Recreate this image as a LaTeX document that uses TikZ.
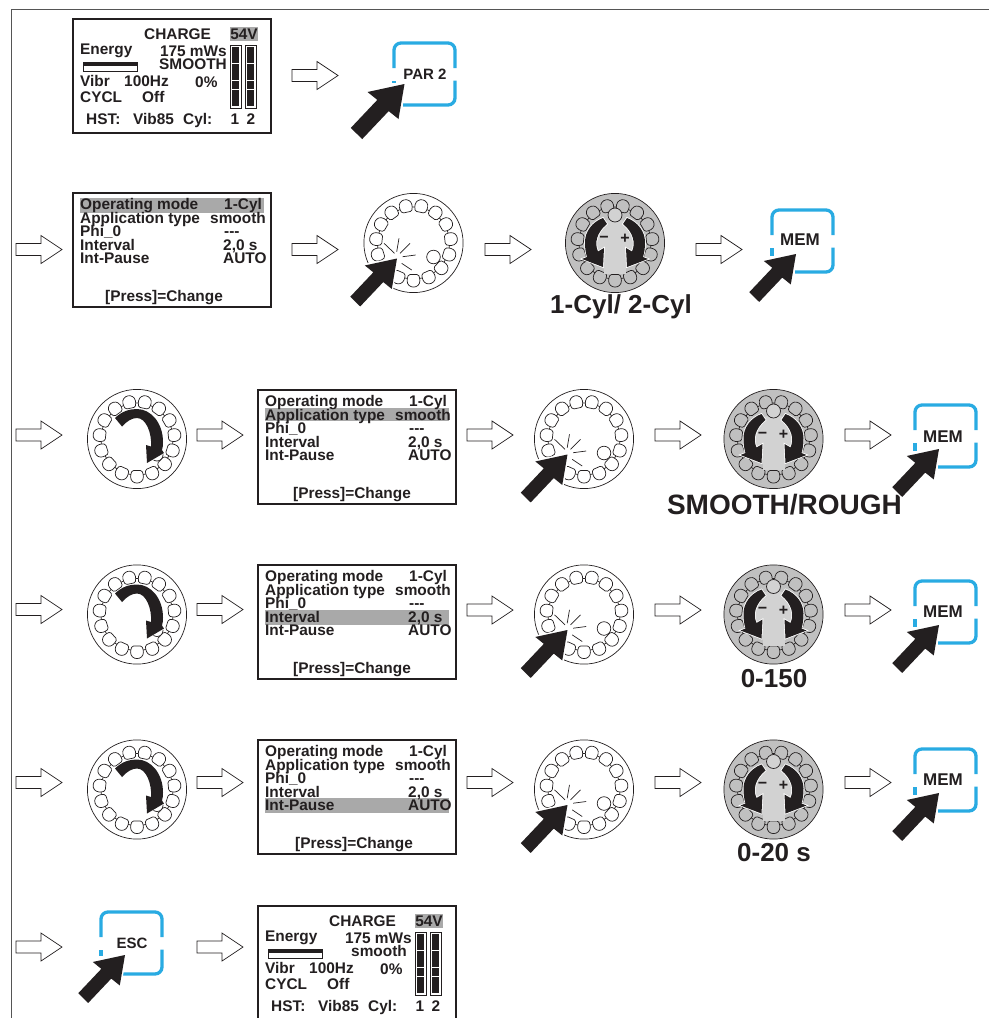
\documentclass[tikz,border=0pt]{standalone}
\usepackage{fontspec}
\setmainfont{Liberation Sans}
\definecolor{ink}{HTML}{231F20}
\definecolor{frameline}{HTML}{555555}
\definecolor{btnblue}{HTML}{29ABE2}
\definecolor{hlgrey}{HTML}{A9A9A9}
\definecolor{dialdark}{HTML}{C0C0C0}
\definecolor{diallight}{HTML}{D2D2D2}
\tikzset{
  hollow/.style={draw=ink,fill=white,line width=.7pt,line join=miter},
  screenbox/.style={draw=ink,fill=white,line width=1.6pt},
  scrleft/.style={anchor=base west,inner sep=0pt,text=ink,font=\fontsize{15.4}{15}\selectfont\bfseries},
  scrright/.style={anchor=base east,inner sep=0pt,text=ink,font=\fontsize{15.4}{15}\selectfont\bfseries},
  scrmid/.style={anchor=base,inner sep=0pt,text=ink,font=\fontsize{15.4}{15}\selectfont\bfseries},
  bigtext/.style={anchor=center,inner sep=0pt,text=ink,font=\fontsize{26}{26}\selectfont\bfseries},
  btntext/.style={anchor=center,inner sep=0pt,text=ink,font=\fontsize{15.5}{15}\selectfont\bfseries},
  btnline/.style={draw=btnblue,line width=3.3pt,rounded corners=7pt},
  pointer/.style={fill=ink,preaction={draw=white,line width=3pt}},
  dialline/.style={draw=ink,line width=.7pt},
  signtext/.style={anchor=center,inner sep=0pt,text=ink,font=\fontsize{16}{16}\selectfont\bfseries},
}
% hollow block arrow: x, centre y
\newcommand{\harrow}[2]{%
  \draw[hollow,shift={(#1,#2)}] (0,-6) -- (25,-6) -- (25,-14) -- (46,0) -- (25,14) -- (25,6) -- (0,6) -- cycle;}
% black pointer: tip x, tip y, scale
\newcommand{\pointerarrow}[3]{%
  \path[pointer,shift={(#1,#2)},scale=#3] (0,0) -- (-37,8) -- (-27.2,15.9) -- (-53.7,43.9) -- (-42.3,55.1) -- (-15.8,27.1) -- (-6,35) -- cycle;}
% ring of bumps (y axis points down, so angles run clockwise on the page)
\newcommand{\bumps}[1]{%
  \foreach \a in {90,114,...,426}{%
    \draw[dialline,fill=#1,shift={(\a:37.5)},rotate=-\a]
      (-6,-3.4) .. controls (-6,-4.8) and (-5.5,-5.2) .. (-4.7,-5.4)
      .. controls (-2.6,-6.2) and (-1,-6.4) .. (.2,-6.4)
      .. controls (4,-6.4) and (6.6,-3.6) .. (6.6,0)
      .. controls (6.6,3.6) and (4,6.4) .. (.2,6.4)
      .. controls (-1,6.4) and (-2.6,6.2) .. (-4.7,5.4)
      .. controls (-5.5,5.2) and (-6,4.8) .. (-6,3.4) -- cycle;}}
% plain dial with turning arrow
\newcommand{\turndial}[2]{%
  \begin{scope}[shift={(#1,#2)}]
    \draw[dialline] (0,0) circle[radius=49.6];
    \draw[dialline] (0,0) circle[radius=36];
    \bumps{white}
    \draw[dialline,fill=white] (20,16) circle[radius=6];
    \path[fill=ink,preaction={draw=white,line width=1pt}] (-22,-21) .. controls (-15,-28) and (-7,-30) .. (0,-30)
      .. controls (14,-30) and (26,-16) .. (26,3) .. controls (26,6) and (26,8) .. (25,11)
      -- (27,14) -- (10,24) -- (9,6) -- (14,7.5) .. controls (15,-6) and (9,-21) .. (0,-21)
      .. controls (-5,-21) and (-10,-18) .. (-15,-12.5) -- cycle;
  \end{scope}}
% dial being pressed
\newcommand{\pressdial}[2]{%
  \begin{scope}[shift={(#1,#2)}]
    \draw[dialline] (0,0) circle[radius=49.6];
    \draw[dialline] (0,0) circle[radius=36];
    \bumps{white}
    \draw[dialline,fill=white] (20,14) circle[radius=6.8];
    \draw[dialline] (-16.8,8.7) -- (-14.5,-4.7);
    \draw[dialline] (-19,10.3) -- (-29.5,.3);
    \draw[dialline] (-13.5,10.3) -- (-3.5,.3);
    \draw[dialline] (-10.8,13.7) -- (2.2,12);
    \draw[dialline] (-11.8,20.3) -- (-1.8,27);
    \pointerarrow{-16.5}{15.5}{.87}
  \end{scope}}
% one half of the grey-dial double arrow
\newcommand{\halfarrow}{%
  (8,-19) -- (12,-25) .. controls (23,-21) and (30,-11) .. (30,-1) .. controls (30,5) and (29.5,9) .. (28,14)
  -- (33,16) -- (12,24) -- (11,5) -- (17,8.5) .. controls (21,0) and (18,-11) .. (8,-19) -- cycle}
% grey dial with + and -
\newcommand{\greydial}[2]{%
  \begin{scope}[shift={(#1,#2)}]
    \draw[dialline,fill=dialdark] (0,0) circle[radius=49.6];
    \draw[dialline] (0,0) circle[radius=36];
    \bumps{dialdark}
    \fill[diallight] (0,-2) circle[radius=22];
    \fill[diallight] (-11,0) rectangle (11,31);
    \draw[dialline,fill=diallight] (0,-28) circle[radius=7];
    \path[fill=ink,preaction={draw=white,line width=1.6pt}] \halfarrow;
    \begin{scope}[xscale=-1]
      \path[fill=ink,preaction={draw=white,line width=1.6pt}] \halfarrow;
    \end{scope}
    \node[signtext] (minus#1) at (-11,-4) {−};
    \node[signtext] (plus#1) at (10,-4) {+};
  \end{scope}}
% blue button: x, y, stub end, bottom start, text, text cx, text cy, text size
\newcommand{\button}[8]{%
  \begin{scope}[shift={(#1,#2)}]
    \draw[btnline] (2,27) -- (2,2) -- (63,2) -- (63,27);
    \draw[btnline] (63,39.5) -- (63,64) -- (#4,64);
    \draw[draw=btnblue,line width=3.3pt] (2,40) -- (2,#3);
    \node[btntext,font=\fontsize{#8}{15}\selectfont\bfseries] (btn#1#2) at (#6,#7) {#5};
  \end{scope}}
% settings screen: name, x, y, highlight top, highlight bottom, press cx
\newcommand{\opscreen}[6]{%
  \begin{scope}[shift={(#2,#3)}]
    \draw[screenbox] (0,0) rectangle (198,114);
    \fill[hlgrey] (7,#4) rectangle (191,#5);
    \node[scrleft] (#1a) at (7,16) {Operating mode};
    \node[scrleft] (#1ar) at (151,16) {1-Cyl};
    \node[scrleft] (#1b) at (7,30) {Application type};
    \node[scrleft] (#1br) at (137,30) {smooth};
    \node[scrleft] (#1c) at (7,43) {Phi\_0};
    \node[scrleft] (#1cr) at (151,43) {-{}-{}-};
    \node[scrleft] (#1d) at (7,57) {Interval};
    \node[scrleft] (#1dr) at (150,57) {2,0 s};
    \node[scrleft] (#1e) at (7,70) {Int-Pause};
    \node[scrleft] (#1er) at (150,70) {AUTO};
    \node[scrmid] (#1f) at (#6,108) {[Press]=Change};
  \end{scope}}
% status screen: name, x, y, mode text, mode right edge
\newcommand{\chargescreen}[5]{%
  \begin{scope}[shift={(#2,#3)}]
    \draw[screenbox] (0,0) rectangle (198,114);
    \fill[hlgrey] (157,8) rectangle (185,22);
    \node[scrleft] (#1a) at (71,20) {CHARGE};
    \node[scrmid] (#1b) at (171,20) {54V};
    \node[scrleft] (#1c) at (7,35) {Energy};
    \node[scrright] (#1d) at (154,37) {175 mWs};
    \node[scrright] (#1e) at (#5,50) {#4};
    \draw[draw=ink,fill=white,line width=.8pt] (10,43) rectangle (64,52);
    \fill[ink] (10,43) rectangle (64,47);
    \node[scrleft] (#1f) at (7,67) {Vibr};
    \node[scrleft] (#1g) at (51,67) {100Hz};
    \node[scrleft] (#1h) at (122,68) {0\%};
    \node[scrleft] (#1i) at (7,83) {CYCL};
    \node[scrleft] (#1j) at (69,83) {Off};
    \node[scrleft] (#1k) at (13,105) {HST:};
    \node[scrleft] (#1l) at (60,105) {Vib85};
    \node[scrleft] (#1m) at (110,105) {Cyl:};
    \node[scrmid] (#1n) at (162,105) {1};
    \node[scrmid] (#1o) at (178,105) {2};
    \foreach \bx in {157,172}{%
      \draw[draw=ink,fill=white,line width=.9pt] (\bx,26) rectangle ++(11,63);
      \fill[ink] (\bx+2,28) rectangle ++(7,59);
      \foreach \by in {44,61,70}{\draw[white,line width=.9pt] (\bx+2,\by) -- ++(7,0);}}
  \end{scope}}
\begin{document}
\begin{tikzpicture}[x=1pt,y=-1pt]
\useasboundingbox (0,0) rectangle (989,1018);
\draw[frameline,line width=1pt] (11,1018) -- (11,9) -- (989,9);
% row 1
\chargescreen{sa}{73}{19}{SMOOTH}{154}
\harrow{292}{75.5}
\button{392}{41}{41.5}{11}{PAR 2}{33}{33}{15}
\pointerarrow{404.5}{84}{1}
% row 2
\harrow{16}{249.5}
\opscreen{sb}{73}{193}{5}{20}{91}
\harrow{292}{249.5}
\pressdial{413.5}{243}
\harrow{485}{249.5}
\greydial{615}{243}
\node[bigtext] (lcyl) at (621,307) {1-Cyl/ 2-Cyl};
\harrow{696}{249.5}
\button{770}{208}{48}{25}{MEM}{30}{32}{17}
\pointerarrow{796}{254}{.87}
% row 3
\harrow{16}{435}
\turndial{137}{439}
\harrow{197}{435}
\opscreen{sc}{258}{390}{18}{31}{94}
\harrow{467}{435}
\pressdial{584}{439}
\harrow{655}{435}
\greydial{773.5}{439}
\node[bigtext,font=\fontsize{28}{28}\selectfont\bfseries] (lsmooth) at (784.5,505) {SMOOTH/ROUGH};
\harrow{845}{435}
\button{913}{403}{48}{25}{MEM}{30}{34}{17}
\pointerarrow{939}{449}{.87}
% row 4
\harrow{16}{609.5}
\turndial{137}{614.5}
\harrow{197}{609.5}
\opscreen{sd}{258}{565}{45}{60}{94}
\harrow{467}{610}
\pressdial{584}{614.5}
\harrow{655}{610}
\greydial{773.5}{614.5}
\node[bigtext] (lrange) at (774,679) {0-150};
\harrow{845}{610}
\button{913}{579}{48}{25}{MEM}{30}{33}{17}
\pointerarrow{939}{625}{.87}
% row 5
\harrow{16}{782.5}
\turndial{137}{789.5}
\harrow{197}{782.5}
\opscreen{se}{258}{740}{58}{73}{96}
\harrow{467}{782.5}
\pressdial{584}{789.5}
\harrow{655}{782.5}
\greydial{773.5}{789.5}
\node[bigtext] (lsec) at (774,853) {0-20 s};
\harrow{845}{782.5}
\button{913}{747}{48}{25}{MEM}{30}{33}{17}
\pointerarrow{939}{793}{.87}
% row 6
\harrow{16}{947}
\button{99}{910}{46}{24}{ESC}{33}{33}{15}
\pointerarrow{125}{955}{.87}
\harrow{197}{947}
\chargescreen{sf}{258}{906}{smooth}{149}
\end{tikzpicture}
\end{document}
